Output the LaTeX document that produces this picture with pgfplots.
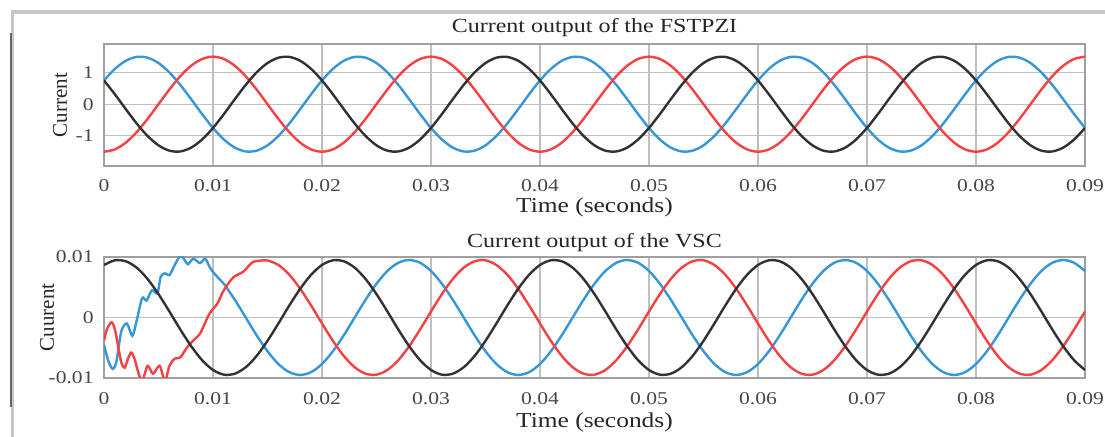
\documentclass[border=0pt]{standalone}
\usepackage{fontspec}
\setmainfont{Liberation Serif}[FakeStretch=1.2]
\newfontfamily\plainfont{Liberation Serif}
\usepackage{pgfplots}
\pgfplotsset{compat=1.18}
\usepackage{pgfplotstable}
\definecolor{cblue}{RGB}{55,150,215}
\definecolor{cred}{RGB}{245,65,65}
\definecolor{cblack}{RGB}{50,50,50}

\pgfplotstableread{
t blue red black
0.000 0.75 -1.5 0.75
0.001 1.1147 -1.4266 0.3119
0.002 1.3703 -1.2135 -0.1568
0.003 1.4918 -0.8817 -0.6101
0.004 1.4672 -0.4635 -1.0037
0.005 1.299 0 -1.299
0.006 1.0037 0.4635 -1.4672
0.007 0.6101 0.8817 -1.4918
0.008 0.1568 1.2135 -1.3703
0.009 -0.3119 1.4266 -1.1147
0.010 -0.75 1.5 -0.75
0.011 -1.1147 1.4266 -0.3119
0.012 -1.3703 1.2135 0.1568
0.013 -1.4918 0.8817 0.6101
0.014 -1.4672 0.4635 1.0037
0.015 -1.299 0 1.299
0.016 -1.0037 -0.4635 1.4672
0.017 -0.6101 -0.8817 1.4918
0.018 -0.1568 -1.2135 1.3703
0.019 0.3119 -1.4266 1.1147
0.020 0.75 -1.5 0.75
0.021 1.1147 -1.4266 0.3119
0.022 1.3703 -1.2135 -0.1568
0.023 1.4918 -0.8817 -0.6101
0.024 1.4672 -0.4635 -1.0037
0.025 1.299 0 -1.299
0.026 1.0037 0.4635 -1.4672
0.027 0.6101 0.8817 -1.4918
0.028 0.1568 1.2135 -1.3703
0.029 -0.3119 1.4266 -1.1147
0.030 -0.75 1.5 -0.75
0.031 -1.1147 1.4266 -0.3119
0.032 -1.3703 1.2135 0.1568
0.033 -1.4918 0.8817 0.6101
0.034 -1.4672 0.4635 1.0037
0.035 -1.299 0 1.299
0.036 -1.0037 -0.4635 1.4672
0.037 -0.6101 -0.8817 1.4918
0.038 -0.1568 -1.2135 1.3703
0.039 0.3119 -1.4266 1.1147
0.040 0.75 -1.5 0.75
0.041 1.1147 -1.4266 0.3119
0.042 1.3703 -1.2135 -0.1568
0.043 1.4918 -0.8817 -0.6101
0.044 1.4672 -0.4635 -1.0037
0.045 1.299 0 -1.299
0.046 1.0037 0.4635 -1.4672
0.047 0.6101 0.8817 -1.4918
0.048 0.1568 1.2135 -1.3703
0.049 -0.3119 1.4266 -1.1147
0.050 -0.75 1.5 -0.75
0.051 -1.1147 1.4266 -0.3119
0.052 -1.3703 1.2135 0.1568
0.053 -1.4918 0.8817 0.6101
0.054 -1.4672 0.4635 1.0037
0.055 -1.299 0 1.299
0.056 -1.0037 -0.4635 1.4672
0.057 -0.6101 -0.8817 1.4918
0.058 -0.1568 -1.2135 1.3703
0.059 0.3119 -1.4266 1.1147
0.060 0.75 -1.5 0.75
0.061 1.1147 -1.4266 0.3119
0.062 1.3703 -1.2135 -0.1568
0.063 1.4918 -0.8817 -0.6101
0.064 1.4672 -0.4635 -1.0037
0.065 1.299 0 -1.299
0.066 1.0037 0.4635 -1.4672
0.067 0.6101 0.8817 -1.4918
0.068 0.1568 1.2135 -1.3703
0.069 -0.3119 1.4266 -1.1147
0.070 -0.75 1.5 -0.75
0.071 -1.1147 1.4266 -0.3119
0.072 -1.3703 1.2135 0.1568
0.073 -1.4918 0.8817 0.6101
0.074 -1.4672 0.4635 1.0037
0.075 -1.299 0 1.299
0.076 -1.0037 -0.4635 1.4672
0.077 -0.6101 -0.8817 1.4918
0.078 -0.1568 -1.2135 1.3703
0.079 0.3119 -1.4266 1.1147
0.080 0.75 -1.5 0.75
0.081 1.1147 -1.4266 0.3119
0.082 1.3703 -1.2135 -0.1568
0.083 1.4918 -0.8817 -0.6101
0.084 1.4672 -0.4635 -1.0037
0.085 1.299 0 -1.299
0.086 1.0037 0.4635 -1.4672
0.087 0.6101 0.8817 -1.4918
0.088 0.1568 1.2135 -1.3703
0.089 -0.3119 1.4266 -1.1147
0.090 -0.75 1.5 -0.75
}\toptable

\pgfplotstableread{
t blue red black
0.000 -0.00769 -0.00099 0.00868
0.001 -0.00558 -0.00386 0.00945
0.002 -0.00294 -0.00636 0.00929
0.003 0 -0.00823 0.00823
0.004 0.00294 -0.00929 0.00636
0.005 0.00558 -0.00945 0.00386
0.006 0.00769 -0.00868 0.00099
0.007 0.00904 -0.00706 -0.00198
0.008 0.0095 -0.00475 -0.00475
0.009 0.00904 -0.00198 -0.00706
0.010 0.00769 0.00099 -0.00868
0.011 0.00558 0.00386 -0.00945
0.012 0.00294 0.00636 -0.00929
0.013 0 0.00823 -0.00823
0.014 -0.00294 0.00929 -0.00636
0.015 -0.00558 0.00945 -0.00386
0.016 -0.00769 0.00868 -0.00099
0.017 -0.00904 0.00706 0.00198
0.018 -0.0095 0.00475 0.00475
0.019 -0.00904 0.00198 0.00706
0.020 -0.00769 -0.00099 0.00868
0.021 -0.00558 -0.00386 0.00945
0.022 -0.00294 -0.00636 0.00929
0.023 0 -0.00823 0.00823
0.024 0.00294 -0.00929 0.00636
0.025 0.00558 -0.00945 0.00386
0.026 0.00769 -0.00868 0.00099
0.027 0.00904 -0.00706 -0.00198
0.028 0.0095 -0.00475 -0.00475
0.029 0.00904 -0.00198 -0.00706
0.030 0.00769 0.00099 -0.00868
0.031 0.00558 0.00386 -0.00945
0.032 0.00294 0.00636 -0.00929
0.033 0 0.00823 -0.00823
0.034 -0.00294 0.00929 -0.00636
0.035 -0.00558 0.00945 -0.00386
0.036 -0.00769 0.00868 -0.00099
0.037 -0.00904 0.00706 0.00198
0.038 -0.0095 0.00475 0.00475
0.039 -0.00904 0.00198 0.00706
0.040 -0.00769 -0.00099 0.00868
0.041 -0.00558 -0.00386 0.00945
0.042 -0.00294 -0.00636 0.00929
0.043 0 -0.00823 0.00823
0.044 0.00294 -0.00929 0.00636
0.045 0.00558 -0.00945 0.00386
0.046 0.00769 -0.00868 0.00099
0.047 0.00904 -0.00706 -0.00198
0.048 0.0095 -0.00475 -0.00475
0.049 0.00904 -0.00198 -0.00706
0.050 0.00769 0.00099 -0.00868
0.051 0.00558 0.00386 -0.00945
0.052 0.00294 0.00636 -0.00929
0.053 0 0.00823 -0.00823
0.054 -0.00294 0.00929 -0.00636
0.055 -0.00558 0.00945 -0.00386
0.056 -0.00769 0.00868 -0.00099
0.057 -0.00904 0.00706 0.00198
0.058 -0.0095 0.00475 0.00475
0.059 -0.00904 0.00198 0.00706
0.060 -0.00769 -0.00099 0.00868
0.061 -0.00558 -0.00386 0.00945
0.062 -0.00294 -0.00636 0.00929
0.063 0 -0.00823 0.00823
0.064 0.00294 -0.00929 0.00636
0.065 0.00558 -0.00945 0.00386
0.066 0.00769 -0.00868 0.00099
0.067 0.00904 -0.00706 -0.00198
0.068 0.0095 -0.00475 -0.00475
0.069 0.00904 -0.00198 -0.00706
0.070 0.00769 0.00099 -0.00868
0.071 0.00558 0.00386 -0.00945
0.072 0.00294 0.00636 -0.00929
0.073 0 0.00823 -0.00823
0.074 -0.00294 0.00929 -0.00636
0.075 -0.00558 0.00945 -0.00386
0.076 -0.00769 0.00868 -0.00099
0.077 -0.00904 0.00706 0.00198
0.078 -0.0095 0.00475 0.00475
0.079 -0.00904 0.00198 0.00706
0.080 -0.00769 -0.00099 0.00868
0.081 -0.00558 -0.00386 0.00945
0.082 -0.00294 -0.00636 0.00929
0.083 0 -0.00823 0.00823
0.084 0.00294 -0.00929 0.00636
0.085 0.00558 -0.00945 0.00386
0.086 0.00769 -0.00868 0.00099
0.087 0.00904 -0.00706 -0.00198
0.088 0.0095 -0.00475 -0.00475
0.089 0.00904 -0.00198 -0.00706
0.090 0.00769 0.00099 -0.00868
}\bottable

\pgfplotsset{
  myaxis/.style={
    scale only axis, width=490.5pt, anchor=south west,
    xmin=0, xmax=0.09,
    xtick={0,0.01,0.02,0.03,0.04,0.05,0.06,0.07,0.08,0.09},
    xticklabels={0,0.01,0.02,0.03,0.04,0.05,0.06,0.07,0.08,0.09},
    scaled x ticks=false, scaled y ticks=false,
    grid=major, major grid style={gray!50, line width=0.6pt},
    axis line style={gray!75, line width=0.6pt},
    major tick length=0pt,
    tick label style={font=\fontsize{9}{11}\selectfont, text=black!72},
    xticklabel style={anchor=north, inner sep=0pt},
    yticklabel style={anchor=east, inner sep=0pt, xshift=-5pt},
    title style={font=\fontsize{10}{12}\selectfont, anchor=base, inner sep=0pt,
      at={(axis description cs:0.5,1)}, text=black!85},
    xlabel style={font=\fontsize{10.6}{12}\selectfont, anchor=base, inner sep=0pt,
      at={(axis description cs:0.5,0)}, text=black!85},
    every axis plot/.append style={line width=1.2pt, smooth},
  }
}

\begin{document}
\begin{tikzpicture}
\useasboundingbox (0,0) rectangle (552.5pt,218.5pt);
\fill[white] (0,0) rectangle (552.5pt,218.5pt);
\draw[gray!45, line width=1.6pt] (6.2pt,0) -- (6.2pt,212.5pt) -- (552.5pt,212.5pt);
\draw[black!60, line width=1pt] (5.6pt,15pt) -- (5.6pt,202pt);

\begin{axis}[myaxis, name=top, at={(52pt,135.5pt)}, height=61pt,
  ymin=-1.95, ymax=1.9, ytick={-1,0,1}, yticklabels={-1,0,1},
  xticklabel style={yshift=-6.5pt},
  title={Current output of the FSTPZI}, title style={yshift=-0.5pt},
  xlabel={Time (seconds)}, xlabel style={yshift=-23.5pt}]
\addplot[cblue] table[x=t, y=blue] {\toptable};
\addplot[cred] table[x=t, y=red] {\toptable};
\addplot[cblack] table[x=t, y=black] {\toptable};
\end{axis}
\node[rotate=90, font=\plainfont\fontsize{10.5}{12}\selectfont, text=black!85] at ([xshift=-22pt]top.west) {Current};

\begin{axis}[myaxis, name=bot, at={(52pt,29.5pt)}, height=60.5pt,
  ymin=-0.01, ymax=0.01, ytick={-0.01,0,0.01}, yticklabels={-0.01,0,0.01},
  xticklabel style={yshift=-7pt},
  title={Current output of the VSC}, title style={yshift=-1.5pt},
  xlabel={Time (seconds)}, xlabel style={yshift=-25pt}]
\addplot[cblue] coordinates {(0,-0.0045) (0.0004,-0.0072) (0.0008,-0.0085) (0.0011,-0.0076) (0.0013,-0.0055) (0.0016,-0.0022) (0.0021,-0.001) (0.0026,-0.003) (0.003,-0.0005) (0.0035,0.0032) (0.0039,0.0028) (0.0044,0.0045) (0.0049,0.004) (0.0052,0.0067) (0.0056,0.0073) (0.006,0.007) (0.0065,0.0087) (0.007,0.0102) (0.0074,0.0095) (0.0077,0.0088) (0.0082,0.0097) (0.0088,0.009) (0.0093,0.0097) (0.0097,0.0083) (0.0102,0.0071) (0.011,0.00558)};
\addplot[cblue, skip coords between index={0}{11}] table[x=t, y=blue] {\bottable};
\addplot[cred] coordinates {(0,-0.0038) (0.0003,-0.0018) (0.0007,-0.0008) (0.001,-0.002) (0.0013,-0.0048) (0.0016,-0.0075) (0.0019,-0.0083) (0.0022,-0.0068) (0.0025,-0.0058) (0.0028,-0.0068) (0.0031,-0.0088) (0.0035,-0.0105) (0.004,-0.008) (0.0045,-0.0093) (0.0051,-0.008) (0.0056,-0.0105) (0.006,-0.008) (0.0065,-0.0068) (0.007,-0.0066) (0.0076,-0.005) (0.0082,-0.0038) (0.0088,-0.0027) (0.0093,-0.0008) (0.0097,0.0007) (0.0104,0.0023) (0.0109,0.0042) (0.0114,0.0056) (0.0119,0.0067) (0.0128,0.0076) (0.0137,0.0092) (0.015,0.00945)};
\addplot[cred, skip coords between index={0}{15}] table[x=t, y=red] {\bottable};
\addplot[cblack] table[x=t, y=black] {\bottable};
\end{axis}
\node[rotate=90, font=\plainfont\fontsize{10.5}{12}\selectfont, text=black!85] at ([xshift=-28.5pt]bot.west) {Cuurent};
\end{tikzpicture}
\end{document}
